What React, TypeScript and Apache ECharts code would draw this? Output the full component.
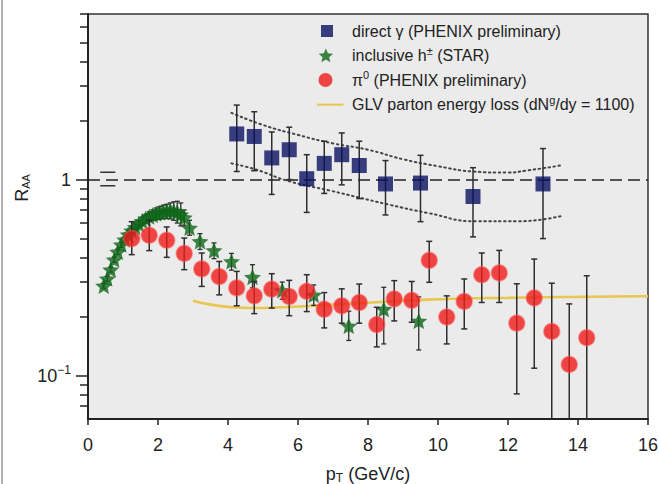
import React, { useEffect, useRef } from "react";
import * as echarts from "echarts";

// ---------- data ----------
const gammaPt = [4.25, 4.75, 5.25, 5.75, 6.25, 6.75, 7.25, 7.75, 8.5, 9.5, 11, 13];
const gammaR = [1.71, 1.66, 1.29, 1.42, 1.01, 1.21, 1.34, 1.18, 0.95, 0.96, 0.82, 0.95];
const gammaHi = [2.4, 2.22, 1.75, 1.85, 1.34, 1.57, 1.73, 1.57, 1.25, 1.33, 1.15, 1.44];
const gammaLo = [1.1, 1.11, 0.84, 1.0, 0.68, 0.85, 0.94, 0.8, 0.66, 0.61, 0.51, 0.5];

const pi0Pt = [1.25, 1.75, 2.25, 2.75, 3.25, 3.75, 4.25, 4.75, 5.25, 5.75, 6.25, 6.75, 7.25, 7.75, 8.25, 8.75, 9.25, 9.75, 10.25, 10.75, 11.25, 11.75, 12.25, 12.75, 13.25, 13.75, 14.25];
const pi0R = [0.5, 0.52, 0.49, 0.42, 0.35, 0.32, 0.28, 0.255, 0.276, 0.253, 0.269, 0.218, 0.227, 0.236, 0.182, 0.246, 0.242, 0.387, 0.199, 0.239, 0.327, 0.334, 0.185, 0.249, 0.168, 0.114, 0.156];
const pi0Hi = [0.61, 0.62, 0.573, 0.503, 0.422, 0.382, 0.34, 0.302, 0.331, 0.306, 0.327, 0.265, 0.277, 0.293, 0.223, 0.305, 0.302, 0.484, 0.255, 0.311, 0.422, 0.435, 0.294, 0.393, 0.296, 0.232, 0.323];
const pi0Lo = [0.414, 0.434, 0.401, 0.347, 0.285, 0.258, 0.227, 0.207, 0.221, 0.202, 0.212, 0.175, 0.185, 0.185, 0.14, 0.19, 0.187, 0.299, 0.145, 0.173, 0.236, 0.236, 0.0806, 0.109, 0.03, 0.03, 0.03];

const starPt = [0.45, 0.55, 0.65, 0.75, 0.85, 0.95, 1.05, 1.15, 1.25, 1.35, 1.45, 1.55, 1.65, 1.75, 1.85, 1.95, 2.05, 2.15, 2.25, 2.35, 2.45, 2.55, 2.65, 2.75, 2.9, 3.2, 3.6, 4.1, 4.7, 5.55, 6.45, 7.45, 8.45, 9.45];
const starR = [0.287, 0.312, 0.347, 0.39, 0.428, 0.465, 0.494, 0.524, 0.549, 0.572, 0.592, 0.614, 0.632, 0.647, 0.659, 0.67, 0.678, 0.686, 0.69, 0.695, 0.69, 0.682, 0.663, 0.64, 0.567, 0.484, 0.435, 0.382, 0.318, 0.272, 0.258, 0.179, 0.218, 0.19];
const starHi = [0.295, 0.321, 0.357, 0.402, 0.441, 0.479, 0.509, 0.54, 0.566, 0.592, 0.615, 0.642, 0.664, 0.684, 0.7, 0.716, 0.728, 0.74, 0.748, 0.76, 0.77, 0.775, 0.76, 0.7, 0.62, 0.53, 0.475, 0.42, 0.368, 0.3, 0.29, 0.213, 0.282, 0.252];
const starLo = [0.279, 0.303, 0.337, 0.378, 0.415, 0.451, 0.479, 0.508, 0.532, 0.552, 0.569, 0.586, 0.6, 0.61, 0.618, 0.624, 0.628, 0.632, 0.632, 0.63, 0.62, 0.6, 0.58, 0.585, 0.52, 0.44, 0.395, 0.345, 0.28, 0.245, 0.228, 0.151, 0.145, 0.135];

const glvPt = [3.0, 3.5, 4.0, 4.7, 5.5, 6, 7, 8, 9, 10, 11, 12, 13, 14, 15, 16];
const glvR = [0.241, 0.23, 0.224, 0.221, 0.223, 0.225, 0.23, 0.235, 0.241, 0.245, 0.248, 0.249, 0.251, 0.252, 0.253, 0.254];

const bandUpperPt = [4.1, 5.0, 6.0, 7.0, 8.0, 9.0, 10.0, 11.0, 12.0, 12.5, 13.5];
const bandUpperR = [2.19, 1.9, 1.69, 1.53, 1.42, 1.27, 1.17, 1.1, 1.086, 1.11, 1.18];
const bandLowerPt = [4.1, 4.8, 5.75, 6.9, 8.6, 9.7, 11.1, 12.25, 13.5];
const bandLowerR = [1.21, 1.125, 0.98, 0.88, 0.745, 0.676, 0.612, 0.612, 0.65];

const sysPt = [0.35, 0.78];
const sysR = [1.09, 0.93];

const xTicks = [0, 2, 4, 6, 8, 10, 12, 14, 16];
const yMajor = [0.1, 1];
const yMinor = [0.07, 0.08, 0.09, 0.2, 0.3, 0.4, 0.5, 0.6, 0.7, 0.8, 0.9, 2, 3, 4, 5, 6, 7];

const N_GAMMA = "direct γ (PHENIX preliminary)";
const N_STAR = "inclusive h± (STAR)";
const N_PI0 = "π0 (PHENIX preliminary)";
const N_GLV = "GLV parton energy loss (dNg/dy = 1100)";

// ---------- styles ----------
const FONT = "'Liberation Sans Narrow', 'Liberation Sans', Arial, sans-serif";
const AXFONT = "'Liberation Sans', Arial, sans-serif";
const NAVY = "#0a1260";
const GREEN = "#0f6619";
const RED = "#ee1a1a";
const GOLD = "#e8c650";
const BAR = "#2e2e2e";

function starPath(s: number, dx: number, dy: number) {
  const pts: string[] = [];
  for (let i = 0; i < 10; i++) {
    const r = i % 2 === 0 ? 10 : 4.6;
    const a = (-90 + i * 36) * Math.PI / 180;
    pts.push(((10 + r * Math.cos(a)) * s + dx).toFixed(2) + "," + ((10 + r * Math.sin(a)) * s + dy).toFixed(2));
  }
  return "M" + pts.join("L") + "Z";
}

const STAR_SYMBOL = "path://" + starPath(1, 0, 0);
const ICON_SQUARE = "path://M0,0M30,14M4,1h12v12h-12z";
const ICON_STAR = "path://M0,0M30,14" + starPath(0.8, 0.5, -0.8);
const ICON_CIRCLE = "path://M0,0M30,14M1.5,7a7,7 0 1,0 14,0a7,7 0 1,0 -14,0z";
const ICON_LINE = "path://M0,0M30,14M-4,6h30v2.4h-30z";

function errRender(color: string, capW: number, lw: number) {
  return (params: any, api: any) => {
    const x = api.value(0);
    const top = api.coord([x, api.value(2)]);
    const bot = api.coord([x, api.value(1)]);
    const st = { stroke: color, lineWidth: lw };
    return {
      type: "group",
      children: [
        { type: "line", shape: { x1: top[0], y1: top[1], x2: bot[0], y2: bot[1] }, style: st },
        { type: "line", shape: { x1: top[0] - capW, y1: top[1], x2: top[0] + capW, y2: top[1] }, style: st },
        { type: "line", shape: { x1: bot[0] - capW, y1: bot[1], x2: bot[0] + capW, y2: bot[1] }, style: st },
      ],
    };
  };
}

export default function App() {
  const ref = useRef<HTMLDivElement>(null);
  useEffect(() => {
    if (!ref.current) return;
    const chart = echarts.init(ref.current, undefined, { renderer: "svg" });
    const legendLabels: Record<string, string> = {
      [N_GAMMA]: "{t|direct γ (PHENIX preliminary)}",
      [N_STAR]: "{t|inclusive h}{s|±}{t| (STAR)}",
      [N_PI0]: "{t|π}{s|0}{t| (PHENIX preliminary)}",
      [N_GLV]: "{t|GLV parton energy loss (dN}{s|g}{t|/dy = 1100)}",
    };
    const option: any = {
      animation: false,
      backgroundColor: "#ffffff",
      grid: {
        left: 88, top: 14, width: 560, height: 405,
        outerBoundsMode: "none",
        containLabel: false,
        show: true, backgroundColor: "#ebebeb", borderColor: "#333", borderWidth: 1.5,
      },
      xAxis: {
        type: "value", min: 0, max: 16, interval: 2,
        axisLine: { lineStyle: { color: "#222", width: 2 } },
        axisTick: { inside: false, length: 6, lineStyle: { color: "#222", width: 1.5 }, customValues: xTicks },
        axisLabel: { color: "#222", fontSize: 18, fontFamily: AXFONT, margin: 17, customValues: xTicks },
        splitLine: { show: false },
        name: "{p|p}{sub|T}{p| (GeV/c)}",
        nameLocation: "middle",
        nameGap: 45,
        nameTextStyle: {
          rich: {
            p: { fontSize: 18, fontFamily: AXFONT, color: "#222" },
            sub: { fontSize: 12, fontFamily: AXFONT, color: "#222", padding: [8, 0, 0, 0] },
          },
        },
      },
      yAxis: [
        {
          type: "log", logBase: 10, min: 0.06, max: 7,
          axisLine: { show: true, lineStyle: { color: "#222", width: 2 } },
          axisTick: { show: true, inside: false, length: 12, lineStyle: { color: "#222", width: 1.5 }, customValues: yMajor },
          axisLabel: {
            customValues: yMajor,
            margin: 17,
            formatter: (v: number) => (Math.abs(v - 1) < 1e-6 ? "{b|1}" : "{b|10}{s|−1}"),
            rich: {
              b: { fontSize: 18, fontFamily: AXFONT, color: "#222" },
              s: { fontSize: 12, fontFamily: AXFONT, color: "#222", padding: [0, 0, 12, 0] },
            },
          },
          splitLine: { show: false },
        },
        {
          type: "log", logBase: 10, min: 0.06, max: 7, position: "left",
          axisLine: { show: false },
          axisTick: { show: true, inside: false, length: 8, lineStyle: { color: "#222", width: 1.5 }, customValues: yMinor },
          axisLabel: { show: false },
          splitLine: { show: false },
        },
      ],
      legend: {
        orient: "vertical", left: 317, top: 23, padding: 0,
        itemWidth: 30, itemHeight: 14, itemGap: 6,
        selectedMode: false,
        itemStyle: { borderWidth: 0 },
        data: [
          { name: N_GAMMA, icon: ICON_SQUARE, itemStyle: { color: NAVY, borderWidth: 0 } },
          { name: N_STAR, icon: ICON_STAR, itemStyle: { color: GREEN, borderWidth: 0 } },
          { name: N_PI0, icon: ICON_CIRCLE, itemStyle: { color: RED, borderWidth: 0 } },
          { name: N_GLV, icon: ICON_LINE, itemStyle: { color: GOLD, borderWidth: 0 } },
        ],
        formatter: (name: string) => legendLabels[name],
        textStyle: {
          fontFamily: FONT, fontSize: 16, color: "#222",
          rich: {
            t: { fontFamily: FONT, fontSize: 16, color: "#222" },
            s: { fontFamily: FONT, fontSize: 11, color: "#222", padding: [0, 0, 10, 0] },
          },
        },
      },
      graphic: [
        { type: "line", shape: { x1: 2, y1: 0, x2: 2, y2: 484 }, style: { stroke: "#999", lineWidth: 1.5 } },
        {
          type: "text", x: 22, y: 188, rotation: Math.PI / 2,
          style: {
            text: "{r|R}{sub|AA}", textAlign: "center", textVerticalAlign: "middle",
            rich: {
              r: { fontSize: 18, fontFamily: AXFONT, fill: "#222" },
              sub: { fontSize: 11, fontFamily: AXFONT, fill: "#222", padding: [8, 0, 0, 0] },
            },
          } as any,
        },
      ],
      series: [
        {
          name: N_GLV, type: "line", smooth: true, symbol: "none", z: 2,
          color: GOLD,
          lineStyle: { color: GOLD, width: 2.6 },
          data: glvPt.map((x, i) => [x, glvR[i]]),
          markLine: {
            silent: true, symbol: ["none", "none"], label: { show: false },
            lineStyle: { type: [12, 6], color: "#222", width: 1.5 },
            data: [{ yAxis: 1 }],
          },
        },
        {
          type: "line", smooth: true, symbol: "none", z: 2,
          lineStyle: { color: "#444", width: 2, type: [1.5, 3.5], cap: "round" },
          data: bandUpperPt.map((x, i) => [x, bandUpperR[i]]),
        },
        {
          type: "line", smooth: true, symbol: "none", z: 2,
          lineStyle: { color: "#444", width: 2, type: [1.5, 3.5], cap: "round" },
          data: bandLowerPt.map((x, i) => [x, bandLowerR[i]]),
        },
        {
          type: "custom", z: 2, silent: true,
          renderItem: (params: any, api: any) => {
            const a = api.coord([sysPt[0], api.value(0)]);
            const b = api.coord([sysPt[1], api.value(0)]);
            return { type: "line", shape: { x1: a[0], y1: a[1], x2: b[0], y2: b[1] }, style: { stroke: "#333", lineWidth: 1.5 } };
          },
          encode: { y: 0 },
          data: sysR.map((v) => [v]),
        },
        {
          type: "custom", z: 3, clip: true, silent: true,
          renderItem: errRender(BAR, 2.5, 1.3),
          encode: { x: 0, y: [1, 2] },
          data: starPt.map((x, i) => [x, starLo[i], starHi[i]]),
        },
        {
          name: N_STAR, type: "scatter", z: 4,
          symbol: STAR_SYMBOL, symbolSize: 17, symbolKeepAspect: true,
          itemStyle: { color: GREEN },
          data: starPt.map((x, i) => [x, starR[i]]),
        },
        {
          type: "custom", z: 5, clip: true, silent: true,
          renderItem: errRender(BAR, 3, 1.5),
          encode: { x: 0, y: [1, 2] },
          data: pi0Pt.map((x, i) => [x, pi0Lo[i], pi0Hi[i]]),
        },
        {
          name: N_PI0, type: "scatter", z: 6,
          symbol: "circle", symbolSize: 16,
          itemStyle: { color: RED, borderColor: "rgba(255,90,90,0.6)", borderWidth: 1.5 },
          data: pi0Pt.map((x, i) => [x, pi0R[i]]),
        },
        {
          type: "custom", z: 7, clip: true, silent: true,
          renderItem: errRender(BAR, 3, 1.5),
          encode: { x: 0, y: [1, 2] },
          data: gammaPt.map((x, i) => [x, gammaLo[i], gammaHi[i]]),
        },
        {
          name: N_GAMMA, type: "scatter", z: 8,
          symbol: "rect", symbolSize: 15,
          itemStyle: { color: NAVY },
          data: gammaPt.map((x, i) => [x, gammaR[i]]),
        },
      ],
    };
    chart.setOption(option);
    return () => chart.dispose();
  }, []);
  return (
    <div
      ref={ref}
      style={{ position: "fixed", left: 0, top: 0, width: 659, height: 484, background: "#fff" }}
    />
  );
}
